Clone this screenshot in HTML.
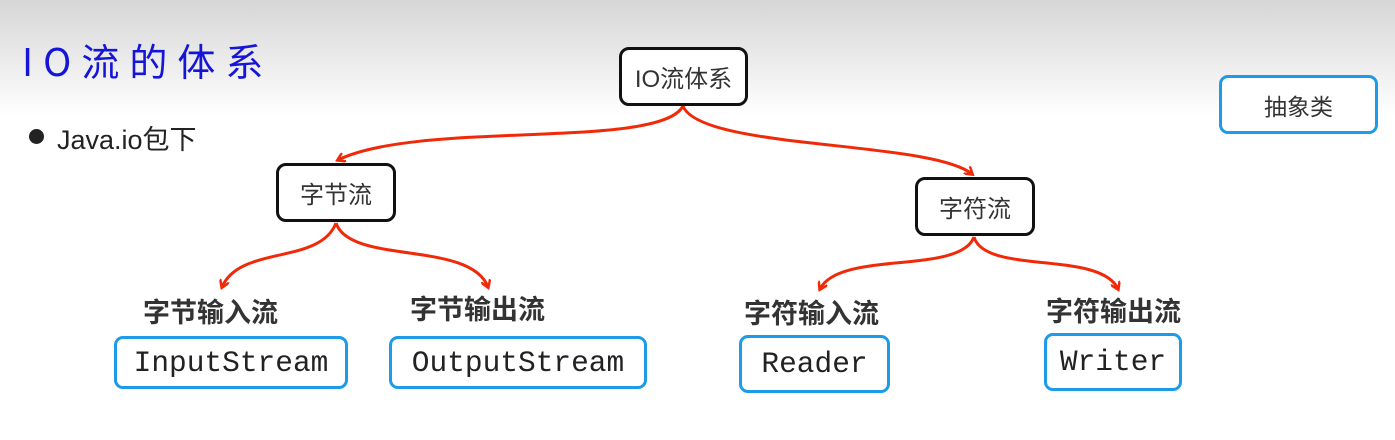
<!DOCTYPE html>
<html><head><meta charset="utf-8"><style>
body{margin:0;width:1395px;height:440px;overflow:hidden;position:relative;font-family:"Liberation Sans","Noto Sans CJK SC",sans-serif;
background:linear-gradient(#d6d6d6 0px,#f2f2f2 80px,#fff 115px,#fff 440px);}
.b{position:absolute;box-sizing:border-box;display:flex;align-items:center;justify-content:center;background:#fff}
.k{border:3px solid #111;border-radius:10px;font-size:24px;color:#333}
.u{border:3px solid #1e9be8;border-radius:9px;font-family:"Liberation Mono",monospace;font-size:29.5px;color:#222}
.l{position:absolute;font-weight:bold;font-size:27px;color:#333;font-family:"Noto Sans CJK SC",sans-serif;line-height:30px}
</style></head><body>
<div style="position:absolute;left:22px;top:32px;font-size:38px;color:#1515d8;font-family:'Noto Sans CJK SC',sans-serif;letter-spacing:10px">IO流的体系</div>
<div style="position:absolute;left:29px;top:129px;width:15px;height:15px;border-radius:50%;background:#222"></div>
<div style="position:absolute;left:57px;top:118px;font-size:27px;color:#222">Java.io包下</div>
<svg width="1395" height="440" style="position:absolute;left:0;top:0">
<defs><marker id="a" markerWidth="10" markerHeight="10" refX="7" refY="5" orient="auto" markerUnits="userSpaceOnUse"><path d="M0,0 L8,5 L0,10" fill="none" stroke="#f02a08" stroke-width="2.5"/></marker></defs>
<g fill="none" stroke="#f02a08" stroke-width="3" marker-end="url(#a)">
<path d="M683,106 C660,150 420,120 338,160"/>
<path d="M683,106 C700,150 930,140 972,174"/>
<path d="M336,223 C320,265 240,245 222,287"/>
<path d="M336,223 C350,265 470,240 488,287"/>
<path d="M974,237 C960,275 840,250 820,289"/>
<path d="M974,237 C985,275 1100,250 1118,289"/>
</g></svg>
<div class="b k" style="left:619px;top:47px;width:129px;height:59px">IO流体系</div>
<div class="b u" style="left:1219px;top:75px;width:159px;height:59px;font-family:'Noto Sans CJK SC',sans-serif;font-size:23px;color:#333">抽象类</div>
<div class="b k" style="left:276px;top:163px;width:120px;height:59px">字节流</div>
<div class="b k" style="left:915px;top:177px;width:120px;height:59px">字符流</div>
<div class="l" style="left:143px;top:296px">字节输入流</div>
<div class="l" style="left:410px;top:293px">字节输出流</div>
<div class="l" style="left:744px;top:297px">字符输入流</div>
<div class="l" style="left:1046px;top:295px">字符输出流</div>
<div class="b u" style="left:114px;top:336px;width:234px;height:53px">InputStream</div>
<div class="b u" style="left:389px;top:336px;width:258px;height:53px">OutputStream</div>
<div class="b u" style="left:739px;top:335px;width:151px;height:58px">Reader</div>
<div class="b u" style="left:1044px;top:333px;width:138px;height:58px">Writer</div>
</body></html>
